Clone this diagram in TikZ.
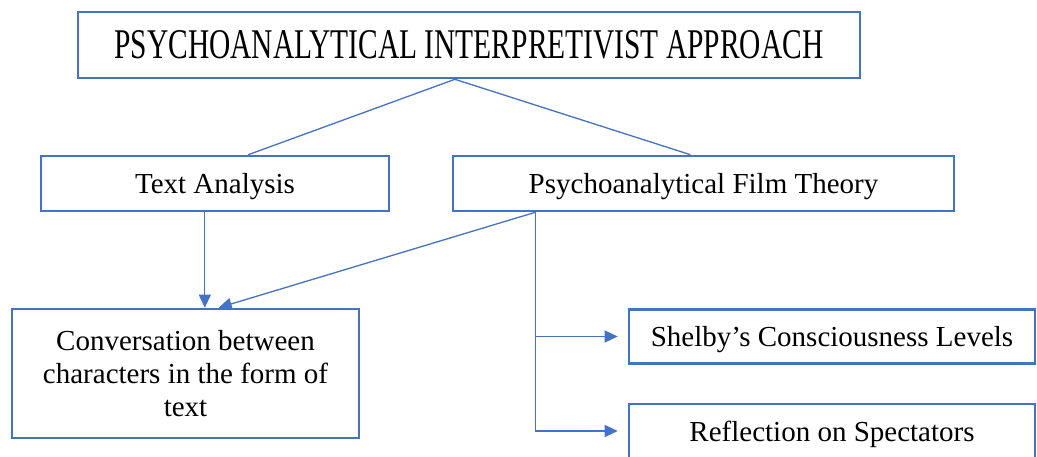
\documentclass[tikz,border=0pt]{standalone}
\usepackage{fontspec}
\setmainfont{Liberation Serif}
\usetikzlibrary{calc,arrows.meta}
\definecolor{boxblue}{HTML}{4472C4}
\tikzset{
  box/.style={draw=boxblue,line width=2.6pt,inner sep=0pt,align=center,
    font=\fontsize{29pt}{33pt}\selectfont},
  onerow/.style={box,text height=24pt,text depth=4pt},
  link/.style={draw=boxblue,line width=1.3pt},
  arrowlink/.style={link,-{Triangle[length=13pt,width=12pt]}}
}
\begin{document}
\begin{tikzpicture}[x=1pt,y=-1pt]
  \useasboundingbox (0,0) rectangle (1037,457);
  \clip (0,0) rectangle (1037,457);
  % boxes
  \node[box,minimum width=782pt,minimum height=66pt] (approach) at (469,45)
    {\resizebox{709pt}{28pt}{PSYCHOANALYTICAL INTERPRETIVIST APPROACH}};
  \node[onerow,minimum width=348pt,minimum height=55pt] (textan) at (215,183.5) {Text Analysis};
  \node[onerow,minimum width=501pt,minimum height=55pt] (filmth) at (703.5,183.5) {Psychoanalytical Film Theory};
  \node[box,minimum width=347pt,minimum height=129pt] (convo) at (185.5,373.5)
    {Conversation between\\characters in the form of\\text};
  \node[onerow,minimum width=406pt,minimum height=54pt] (shelby) at (832,336.5) {Shelby’s Consciousness Levels};
  \node[onerow,minimum width=406pt,minimum height=54pt] (reflect) at (832,431) {Reflection on Spectators};
  % connectors
  \coordinate (apex) at ($(approach.south west)!.482!(approach.south east)$);
  \draw[link] (apex) -- ($(textan.north west)!.595!(textan.north east)$);
  \draw[link] (apex) -- ($(filmth.north west)!.474!(filmth.north east)$);
  \coordinate (taout) at ($(textan.south west)!.471!(textan.south east)$);
  \coordinate (ftout) at ($(filmth.south west)!.166!(filmth.south east)$);
  \draw[arrowlink] (taout) -- (taout |- convo.north);
  \draw[arrowlink] (ftout) -- ($(convo.north west)!.595!(convo.north east)$);
  \draw[arrowlink,shorten >=10pt] (ftout) |- (shelby.west);
  \draw[arrowlink,shorten >=10pt] (ftout) |- (reflect.west);
\end{tikzpicture}
\end{document}
